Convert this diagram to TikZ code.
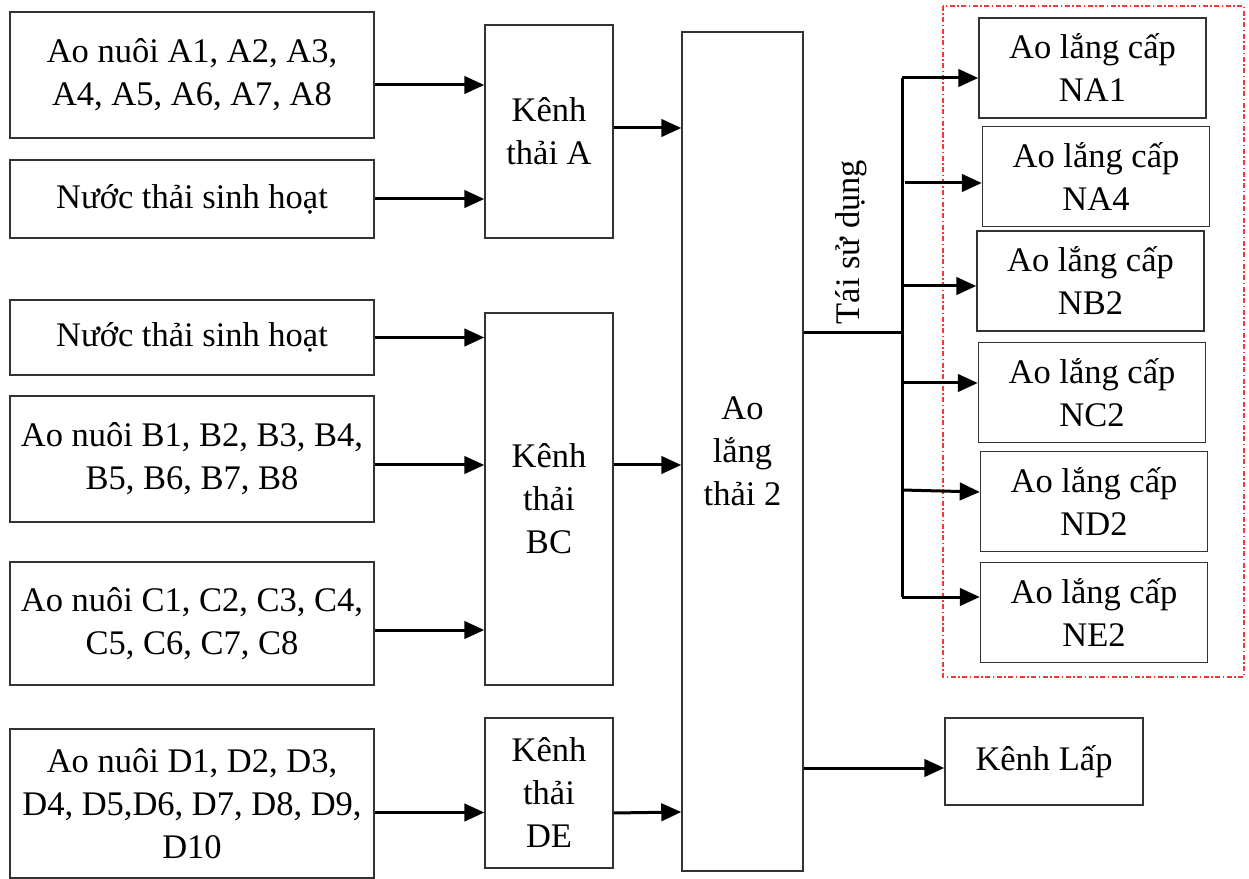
\documentclass[tikz,border=0pt]{standalone}
\usepackage{fontspec}
\setmainfont{Liberation Serif}
\usepackage{xcolor}
\usetikzlibrary{arrows.meta,positioning,calc}
\definecolor{FrameRed}{HTML}{F03A3A}

\begin{document}
\begin{tikzpicture}[
  x=0.4pt,y=-0.4pt,
  box/.style={draw=black!80,line width=0.6pt,fill=white,align=center,inner sep=1pt,font=\fontsize{13.8}{17.2}\selectfont},
  src/.style={box,minimum width=145.6pt},
  kenh/.style={box,minimum width=51.2pt},
  lang/.style={box,minimum width=90.8pt,minimum height=40pt},
  arr/.style={-{Triangle[length=8pt,width=7pt]},line width=1.2pt},
  ln/.style={line width=1.2pt}
]
\useasboundingbox (0,0) rectangle (1249,879);
% nguon thai
\node[src,minimum height=50.4pt] (a) at (192,75) {Ao nuôi A1, A2, A3,\\A4, A5, A6, A7, A8};
\node[src,minimum height=31.2pt] (sh1) at (192,199) {Nước thải sinh hoạt};
\node[src,minimum height=30pt] (sh2) at (192,337.5) {Nước thải sinh hoạt};
\node[src,minimum height=50.4pt] (b) at (192,459) {Ao nuôi B1, B2, B3, B4,\\B5, B6, B7, B8};
\node[src,minimum height=49.2pt] (c) at (192,623.5) {Ao nuôi C1, C2, C3, C4,\\C5, C6, C7, C8};
\node[src,minimum height=59.6pt] (d) at (192,803.5) {Ao nuôi D1, D2, D3,\\D4, D5,D6, D7, D8, D9,\\D10};
% kenh thai
\node[kenh,minimum height=85.2pt] (ka) at (549,131.5) {Kênh\\thải A};
\node[kenh,minimum height=148.8pt] (kbc) at (549,499) {Kênh\\thải\\BC};
\node[kenh,minimum height=60pt] (kde) at (549,793) {Kênh\\thải\\DE};
\node[box,minimum width=48.4pt,minimum height=335.6pt] (alt) at (742.5,451.5) {Ao\\lắng\\thải 2};
\node[box,minimum width=79.2pt,minimum height=34.8pt] (kl) at (1044,761.5) {Kênh Lấp};
% ao lang cap
\draw[FrameRed,line width=0.5pt,dash pattern=on 2pt off 1pt on 0.6pt off 1pt] (943,6) rectangle (1244,677);
\node[lang] (na1) at (1092.5,68) {Ao lắng cấp\\NA1};
\node[lang] (na4) at (1096,176.5) {Ao lắng cấp\\NA4};
\node[lang] (nb2) at (1090.5,281) {Ao lắng cấp\\NB2};
\node[lang] (nc2) at (1092,392.5) {Ao lắng cấp\\NC2};
\node[lang] (nd2) at (1094,501.5) {Ao lắng cấp\\ND2};
\node[lang] (ne2) at (1094,612.5) {Ao lắng cấp\\NE2};
\coordinate (tr) at (902,333);
\coordinate (t1) at (902,78);
\coordinate (t6) at (902,597);
\node[rotate=90,font=\fontsize{13.8}{17.2}\selectfont] (tsd) at (851,242) {Tái sử dụng};
% mui ten
\draw[arr] ([yshift=-4pt]a.east) -- ([yshift=-4pt]a.east -| ka.west);
\draw[arr] (sh1.east) -- (sh1.east -| ka.west);
\draw[arr] (sh2.east) -- (sh2.east -| kbc.west);
\draw[arr] ([yshift=-2.4pt]b.east) -- ([yshift=-2.4pt]b.east -| kbc.west);
\draw[arr] ([yshift=-2.6pt]c.east) -- ([yshift=-2.6pt]c.east -| kbc.west);
\draw[arr] ([yshift=-3.6pt]d.east) -- ([yshift=-3.6pt]d.east -| kde.west);
\draw[arr] ([yshift=1.4pt]ka.east) -- ([yshift=1.4pt]ka.east -| alt.west);
\draw[arr] ([yshift=13.6pt]kbc.east) -- ([yshift=13.6pt]kbc.east -| alt.west);
\draw[arr] ([yshift=-8pt]kde.east) -- ([yshift=-7.6pt]kde.east -| alt.west);
\draw[arr] ([yshift=-2.6pt]kl.west -| alt.east) -- ([yshift=-2.6pt]kl.west);
\draw[ln] (tr -| alt.east) -- (tr);
\draw[ln] (t1) -- (t6);
\draw[arr] (t1) -- (t1 -| na1.west);
\draw[arr] ([xshift=1.2pt]t1 |- 0,183) -- (na4.west |- 0,183);
\draw[arr] (t1 |- 0,286) -- (nb2.west |- 0,286);
\draw[arr] (t1 |- 0,383) -- (nc2.west |- 0,383);
\draw[arr] (t1 |- 0,490) -- (nd2.west |- 0,492);
\draw[arr] (t6) -- (t6 -| ne2.west);
\end{tikzpicture}
\end{document}
